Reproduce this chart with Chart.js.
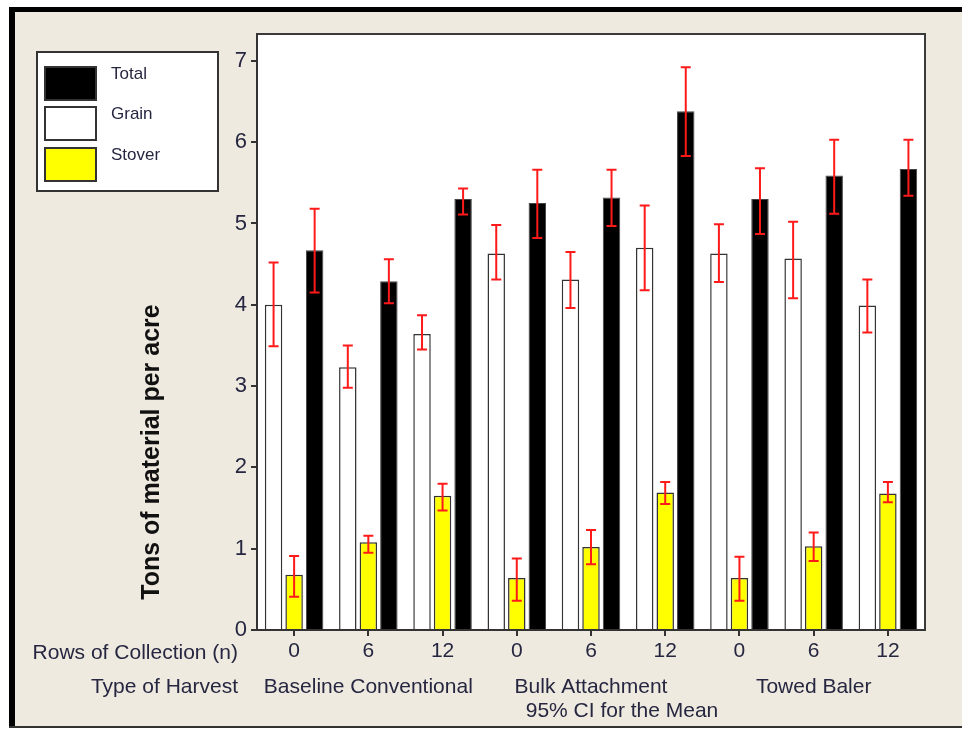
<!DOCTYPE html>
<html>
<head>
<meta charset="utf-8">
<script src="https://cdn.jsdelivr.net/npm/chart.js"></script>
<style>
  body { margin: 0; background: #fff; }
  canvas { display: block; }
</style>
</head>
<body>
<canvas id="chart" width="962" height="729"></canvas>
<script>
// rows of collection (x tick labels) and harvest type per block of three
const rows = ['0', '6', '12', '0', '6', '12', '0', '6', '12'];
const harvests = ['Baseline Conventional', 'Bulk Attachment', 'Towed Baler'];

// means and 95% CI, tons per acre
const grain    = [4.00, 3.23, 3.64, 4.63, 4.31, 4.70, 4.63, 4.57, 3.99];
const grainLo  = [3.49, 2.98, 3.45, 4.31, 3.96, 4.18, 4.28, 4.08, 3.66];
const grainHi  = [4.52, 3.50, 3.87, 4.98, 4.65, 5.22, 4.99, 5.02, 4.31];

const stover   = [0.68, 1.08, 1.65, 0.64, 1.02, 1.69, 0.64, 1.03, 1.68];
const stoverLo = [0.41, 0.95, 1.47, 0.36, 0.81, 1.55, 0.36, 0.85, 1.57];
const stoverHi = [0.91, 1.16, 1.80, 0.88, 1.23, 1.82, 0.90, 1.20, 1.82];

const total    = [4.67, 4.29, 5.30, 5.25, 5.32, 6.38, 5.30, 5.59, 5.67];
const totalLo  = [4.15, 4.02, 5.11, 4.82, 4.97, 5.83, 4.87, 5.12, 5.34];
const totalHi  = [5.18, 4.56, 5.43, 5.66, 5.66, 6.92, 5.68, 6.03, 6.03];

const yTicks = [0, 1, 2, 3, 4, 5, 6, 7];

const textCol = '#262640';
const panelCol = '#eeeae0';

const ciData = [[grainLo, grainHi], [stoverLo, stoverHi], [totalLo, totalHi]];

// beige panel with heavy frame, white plot area
const backdrop = {
    id: 'backdrop',
    beforeDraw(chart) {
        const c = chart.ctx, a = chart.chartArea;
        c.save();
        c.fillStyle = '#fff';
        c.fillRect(0, 0, chart.width, chart.height);
        c.fillStyle = panelCol;
        c.fillRect(10, 8, chart.width - 10, 720);
        c.fillStyle = '#000';
        c.fillRect(9, 7, chart.width - 9, 5);
        c.fillRect(9, 7, 6, 721);
        c.fillStyle = '#333';
        c.fillRect(9, 726, chart.width - 9, 2);
        c.fillStyle = '#fff';
        c.fillRect(a.left, a.top, a.right - a.left, a.bottom - a.top);
        c.restore();
    },
    afterDraw(chart) {
        const c = chart.ctx, a = chart.chartArea;
        c.save();
        c.strokeStyle = '#3a3a3a';
        c.lineWidth = 2;
        c.beginPath();
        c.moveTo(a.left, a.top);
        c.lineTo(a.right, a.top);
        c.lineTo(a.right, a.bottom);
        c.stroke();

        // y title
        c.fillStyle = '#111';
        c.font = 'bold 25px "Liberation Sans", Arial, sans-serif';
        c.textAlign = 'center';
        c.textBaseline = 'middle';
        c.translate(152, 452);
        c.rotate(-Math.PI / 2);
        c.fillText('Tons of material per acre', 0, 0);
        c.restore();

        // x axis extra rows
        const xs = chart.scales.x;
        c.save();
        c.fillStyle = textCol;
        c.font = '21px "Liberation Sans", Arial, sans-serif';
        c.textBaseline = 'middle';
        c.textAlign = 'right';
        c.fillText('Rows of Collection (n)', 238, 653);
        c.fillText('Type of Harvest', 238, 687);
        c.textAlign = 'center';
        harvests.forEach((h, i) => {
            c.fillText(h, xs.getPixelForValue(i * 3 + 1), 687);
        });
        c.fillText('95% CI for the Mean', (a.left + a.right) / 2 + 31, 711);

        // legend
        c.fillStyle = '#fff';
        c.fillRect(37, 52, 181, 139);
        c.strokeStyle = '#333';
        c.lineWidth = 2;
        c.strokeRect(37, 52, 181, 139);
        const order = [2, 0, 1];
        const sy = [67, 107, 148];
        c.font = '17px "Liberation Sans", Arial, sans-serif';
        c.textAlign = 'left';
        order.forEach((di, k) => {
            const ds = chart.data.datasets[di];
            c.fillStyle = ds.backgroundColor;
            c.fillRect(45, sy[k], 51, 33);
            c.strokeStyle = '#333';
            c.lineWidth = 2;
            c.strokeRect(45, sy[k], 51, 33);
            c.fillStyle = textCol;
            c.fillText(ds.label, 111, sy[k] + 7);
        });
        c.restore();
    }
};

// red 95% CI whiskers
const errorBars = {
    id: 'errorBars',
    afterDatasetsDraw(chart) {
        const c = chart.ctx, ys = chart.scales.y;
        c.save();
        c.strokeStyle = '#ff1a1a';
        c.lineWidth = 2;
        chart.data.datasets.forEach((ds, i) => {
            const meta = chart.getDatasetMeta(i);
            meta.data.forEach((bar, j) => {
                const lo = ys.getPixelForValue(ciData[i][0][j]);
                const hi = ys.getPixelForValue(ciData[i][1][j]);
                c.beginPath();
                c.moveTo(bar.x, lo); c.lineTo(bar.x, hi);
                c.moveTo(bar.x - 5, lo); c.lineTo(bar.x + 5, lo);
                c.moveTo(bar.x - 5, hi); c.lineTo(bar.x + 5, hi);
                c.stroke();
            });
        });
        c.restore();
    }
};

new Chart(document.getElementById('chart'), {
    type: 'bar',
    data: {
        labels: rows,
        datasets: [
            { label: 'Grain', data: grain, backgroundColor: '#ffffff', borderColor: '#333', borderWidth: 1.5 },
            { label: 'Stover', data: stover, backgroundColor: '#ffff00', borderColor: '#333', borderWidth: 1.5 },
            { label: 'Total', data: total, backgroundColor: '#000000', borderColor: '#444', borderWidth: 1 }
        ]
    },
    options: {
        responsive: false,
        animation: false,
        barPercentage: 0.85,
        categoryPercentage: 0.83,
        layout: { padding: { top: 34, right: 37, left: 0, bottom: 0 } },
        plugins: {
            legend: { display: false },
            tooltip: { enabled: false }
        },
        scales: {
            x: {
                afterFit(scale) { scale.height = 99; },
                grid: { display: true, drawOnChartArea: false, offset: false, tickLength: 6, tickColor: '#333', lineWidth: 2 },
                border: { color: '#333', width: 2 },
                ticks: {
                    color: textCol,
                    font: { family: '"Liberation Sans", Arial, sans-serif', size: 21 },
                    padding: 3,
                    maxRotation: 0
                }
            },
            y: {
                min: 0,
                max: 7.33,
                afterFit(scale) { scale.width = 257; },
                afterBuildTicks(scale) { scale.ticks = yTicks.map(v => ({ value: v })); },
                grid: { display: true, drawOnChartArea: false, tickLength: 6, tickColor: '#333', lineWidth: 2 },
                border: { color: '#333', width: 2 },
                ticks: {
                    color: textCol,
                    font: { family: '"Liberation Sans", Arial, sans-serif', size: 22 },
                    padding: 4
                }
            }
        }
    },
    plugins: [backdrop, errorBars]
});
</script>
</body>
</html>
